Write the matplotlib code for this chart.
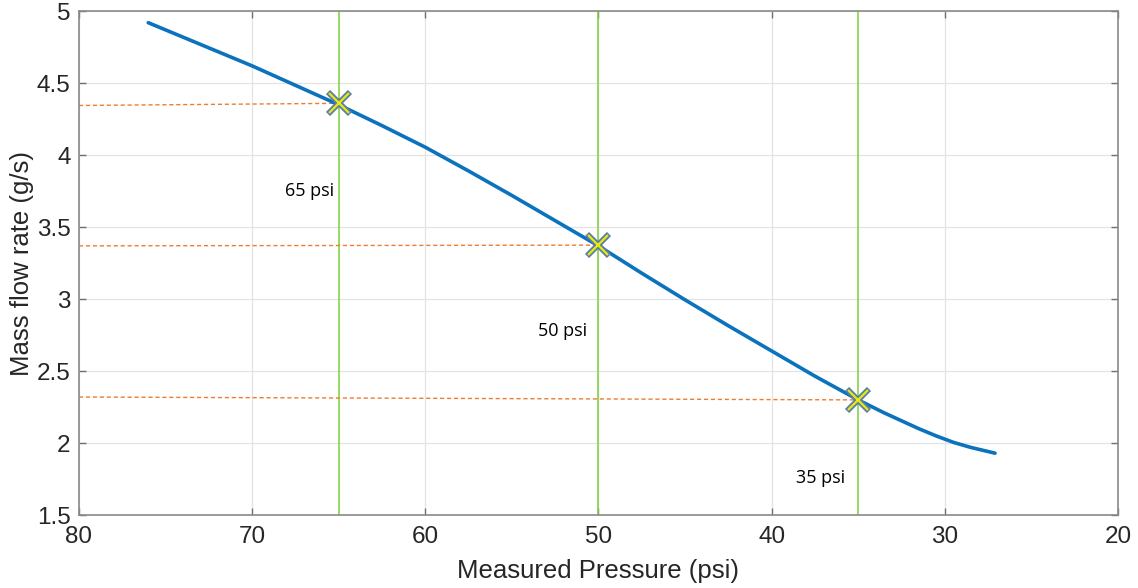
import numpy as np
import matplotlib.pyplot as plt

# curve
pressure = [76.0, 73, 70, 67.5, 65, 62.5, 60, 57.5, 55, 52.5, 50, 47.5, 45, 42.5, 40, 37.5, 35,
            33.5, 32.5, 31.5, 30.5, 29.5, 28.5, 27.8, 27.1]
mass_flow = [4.92, 4.77, 4.62, 4.485, 4.35, 4.205, 4.055, 3.89, 3.72, 3.545, 3.37, 3.18, 2.995, 2.815, 2.64, 2.465, 2.30,
             2.21, 2.155, 2.10, 2.05, 2.005, 1.97, 1.95, 1.93]

# operating points
op_pressure = [65, 50, 35]
op_flow = [4.36, 3.375, 2.30]
op_flow_left = [4.345, 3.37, 2.32]
op_labels = ['65 psi', '50 psi', '35 psi']
label_x = [66.7, 52.05, 37.15]
label_y = [3.75, 2.78, 1.76]

plt.rcParams['font.family'] = ['Liberation Sans', 'DejaVu Sans']

fig = plt.figure(figsize=(11.38, 5.88), dpi=100)
ax = fig.add_axes([0.0694, 0.124, 0.913, 0.857])

for p in op_pressure:
    ax.axvline(p, color='#7cd13a', lw=1.1, zorder=2)

for p, yl, yr in zip(op_pressure, op_flow_left, op_flow):
    ax.plot([80, p], [yl, yr], color='#ed7d31', lw=1.0, ls=(0, (3, 2)), zorder=2)

ax.plot(pressure, mass_flow, color='#0b72bd', lw=2.6, zorder=3, solid_capstyle='round', solid_joinstyle='round')

ax.plot(op_pressure, op_flow, ls='none', marker='x', ms=16, mew=4.2, color='#5a7ea3', zorder=4)
ax.plot(op_pressure, op_flow, ls='none', marker='x', ms=14, mew=1.6, color='#e8e812', zorder=5)

for t, x, y in zip(op_labels, label_x, label_y):
    ax.text(x, y, t, ha='center', va='center', fontsize=13, family=['Open Sans', 'DejaVu Sans'], color='black')

ax.set_xlim(80, 20)
ax.set_ylim(1.5, 5)
ax.set_xticks([80, 70, 60, 50, 40, 30, 20])
ax.set_yticks([1.5, 2, 2.5, 3, 3.5, 4, 4.5, 5])
ax.set_yticklabels(['1.5', '2', '2.5', '3', '3.5', '4', '4.5', '5'])
ax.grid(True, color='#e3e3e3', lw=0.9)
ax.set_axisbelow(True)
ax.tick_params(direction='in', top=True, right=True, length=5, width=1, color='#707070',
               labelsize=17.5, labelcolor='#262626')
ax.tick_params(axis='x', pad=8)
ax.tick_params(axis='y', pad=6)
for s in ax.spines.values():
    s.set_color('#8a8a8a')
    s.set_linewidth(1.2)

ax.set_xlabel('Measured Pressure (psi)', fontsize=18.5, color='#262626', labelpad=8)
ax.set_ylabel('Mass flow rate (g/s)', fontsize=18.5, color='#262626', labelpad=2)

fig.savefig('out.png', dpi=100)
